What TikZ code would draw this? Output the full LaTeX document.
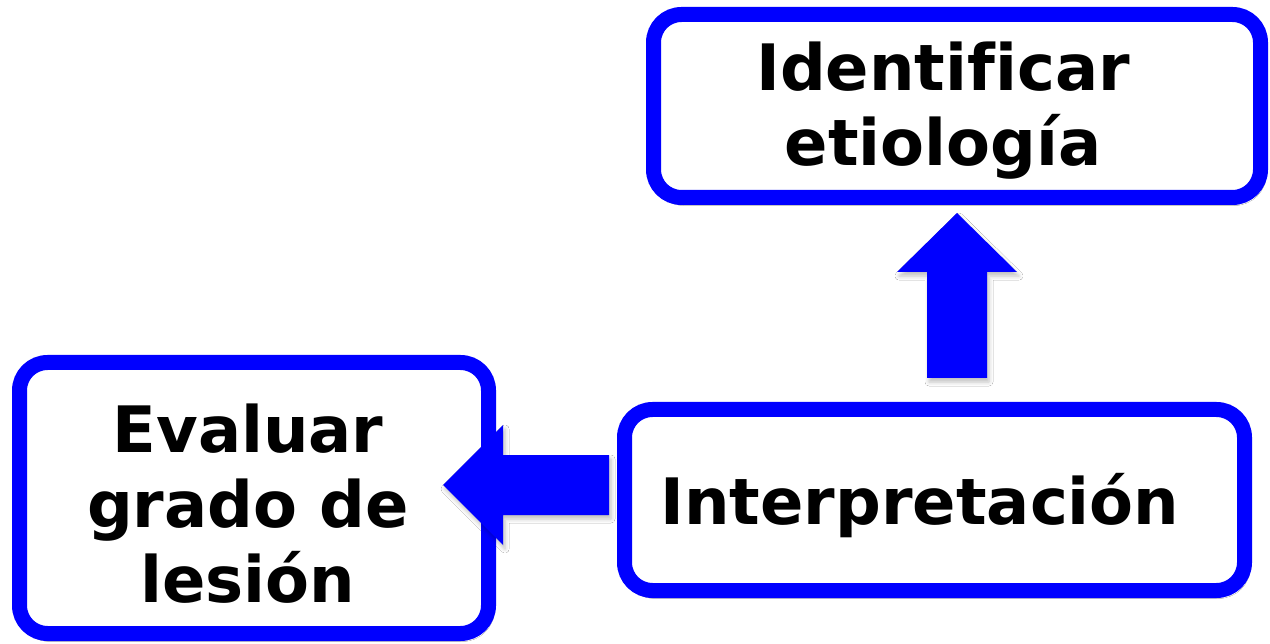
\documentclass[tikz,border=0pt]{standalone}
\usepackage{fontspec}
\setmainfont{DejaVu Sans}[Ligatures=NoCommon]
\usetikzlibrary{calc,shadows.blur}

\definecolor{flowblue}{RGB}{0,0,255}

\tikzset{
  softshadow/.style={blur shadow={shadow xshift=2pt, shadow yshift=-4pt,
      shadow blur radius=4pt, shadow opacity=25}},
  stagebox/.style={draw=flowblue, line width=15pt, fill=white,
      rounded corners=28pt, inner sep=0pt, softshadow},
  stagetext/.style={font=\bfseries\fontsize{64}{75}\selectfont,
      align=center, inner sep=0pt, text=black},
  blockarrow/.style={fill=flowblue, softshadow},
}

\begin{document}
\begin{tikzpicture}[x=1pt, y=-1pt]
  \useasboundingbox[fill=white] (0,0) rectangle (1270,644);

  % the three stages
  \node[stagebox, minimum width=607pt, minimum height=183pt] (etio) at (957,106) {};
  \node[stagebox, minimum width=469pt, minimum height=271pt] (eval) at (254,498) {};
  \node[stagebox, minimum width=620pt, minimum height=181pt] (interp) at (934.5,500) {};

  % block arrow: interpretation -> etiology
  \path (interp.north) ++(22.5,-24) coordinate (upfoot);
  \path (upfoot |- etio.south) ++(0,8) coordinate (uptip);
  \fill[blockarrow] (uptip) -- ++(60,59) -- ++(-30,0)
     -- ($(upfoot)+(30,0)$) -- ($(upfoot)+(-30,0)$)
     -- ($(uptip)+(-30,59)$) -- ++(-30,0) -- cycle;

  % block arrow: interpretation -> severity of lesion
  \path (interp.west) ++(-8,-15) coordinate (lefttail);
  \path (eval.east |- lefttail) ++(-53,0) coordinate (lefttip);
  \fill[blockarrow] (lefttip) -- ++(60,-60) -- ++(0,30)
     -- ($(lefttail)+(0,-30)$) -- ($(lefttail)+(0,30)$)
     -- ($(lefttip)+(60,30)$) -- ++(0,30) -- cycle;

  % labels
  \node[stagetext] (etiotext) at (943,111) {Identificar\\etiología};
  \node[stagetext] (evaltext) at (248,504) {Evaluar\\grado de\\lesión};
  \node[stagetext, anchor=base] (interptext) at (920,524) {Interpretación};
\end{tikzpicture}
\end{document}
